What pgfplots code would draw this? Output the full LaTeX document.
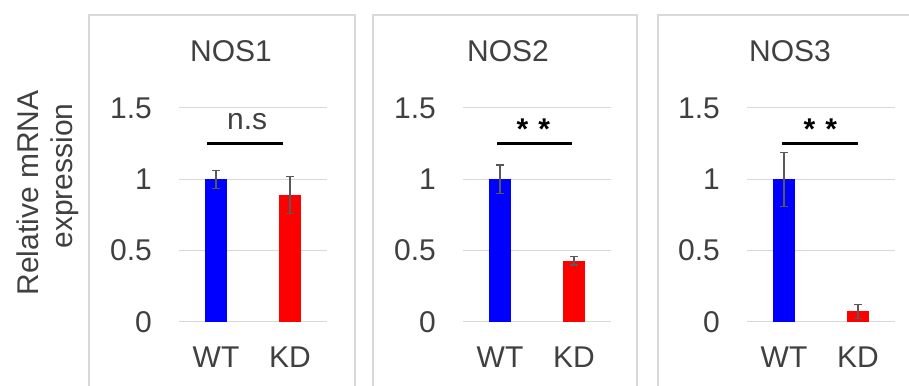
\documentclass[border=0pt]{standalone}
\usepackage{pgfplots}
\pgfplotsset{compat=1.18}
\usepackage{fontspec}
\setmainfont{Liberation Sans}
\definecolor{gridcol}{RGB}{217,217,217}
\definecolor{framecol}{RGB}{217,217,217}
\definecolor{textcol}{RGB}{64,64,64}
\definecolor{errcol}{RGB}{89,89,89}
\definecolor{wtblue}{RGB}{0,0,255}
\definecolor{kdred}{RGB}{255,0,0}
\pgfplotsset{
  panel/.style={
    scale only axis, width=148pt, height=214pt,
    xmin=-0.5, xmax=1.5, ymin=0, ymax=1.5,
    axis line style={draw=none},
    major tick length=0pt,
    ymajorgrids, grid style={gridcol, line width=1pt},
    ytick={0,0.5,1,1.5},
    xtick={0,1}, xticklabels={WT,KD},
    ticklabel style={font=\fontsize{30}{32}\selectfont, text=textcol},
    /pgf/number format/assume math mode=true,
    yticklabel style={anchor=east, inner sep=0pt, xshift=-27pt},
    xticklabel style={anchor=north, inner sep=0pt, yshift=-25pt},
    ybar, bar width=0.3, bar shift=0pt,
    clip=false,
    error bars/y dir=both, error bars/y explicit,
    error bars/error bar style={draw=errcol, line width=1.2pt},
    error bars/error mark options={rotate=90, mark size=4pt, line width=1.2pt, draw=errcol},
  },
}
\newcommand{\bigfont}{\fontsize{30}{32}\selectfont}
\begin{document}
\begin{tikzpicture}[x=1pt,y=1pt]
\path[use as bounding box] (0,0) rectangle (909,385);
\clip (0,0) rectangle (909,385);
% panel frames
\draw[framecol, line width=1.2pt] (89,-10) rectangle (355,370);
\draw[framecol, line width=1.2pt] (373,-10) rectangle (637,370);
\draw[framecol, line width=1.2pt] (658,-10) rectangle (930,370);
% y label
\node[rotate=90, anchor=base, text=textcol, font=\bigfont] at (38,192) {Relative mRNA};
\node[rotate=90, anchor=base, text=textcol, font=\bigfont] at (72,209) {expression};
% titles
\node[anchor=base, text=textcol, font=\bigfont] at (231,323) {NOS1};
\node[anchor=base, text=textcol, font=\bigfont] at (508,323) {NOS2};
\node[anchor=base, text=textcol, font=\bigfont] at (790,323) {NOS3};

\begin{axis}[panel, at={(179pt,63pt)}, anchor=south west]
\addplot[fill=wtblue, draw=none] coordinates {(0,1.00) +- (0,0.063)};
\addplot[fill=kdred, draw=none] coordinates {(1,0.89) +- (0,0.13)};
\draw[black, line width=3.5pt] (axis cs:-0.12,1.25) -- (axis cs:0.91,1.25);
\node[anchor=base, text=textcol, font=\bigfont] at (axis cs:0.42,1.35) {n.s};
\end{axis}

\begin{axis}[panel, at={(463pt,63pt)}, anchor=south west]
\addplot[fill=wtblue, draw=none] coordinates {(0,1.00) +- (0,0.10)};
\addplot[fill=kdred, draw=none] coordinates {(1,0.43) +- (0,0.03)};
\draw[black, line width=3.5pt] (axis cs:-0.04,1.25) -- (axis cs:0.97,1.25);
\node[anchor=base, font=\bigfont\bfseries] at (axis cs:0.45,1.28) {*\hspace{10pt}*};
\end{axis}

\begin{axis}[panel, at={(747pt,63pt)}, anchor=south west]
\addplot[fill=wtblue, draw=none] coordinates {(0,1.00) +- (0,0.19)};
\addplot[fill=kdred, draw=none] coordinates {(1,0.075) +- (0,0.05)};
\draw[black, line width=3.5pt] (axis cs:-0.03,1.25) -- (axis cs:1.00,1.25);
\node[anchor=base, font=\bigfont\bfseries] at (axis cs:0.49,1.28) {*\hspace{10pt}*};
\end{axis}
\end{tikzpicture}
\end{document}
